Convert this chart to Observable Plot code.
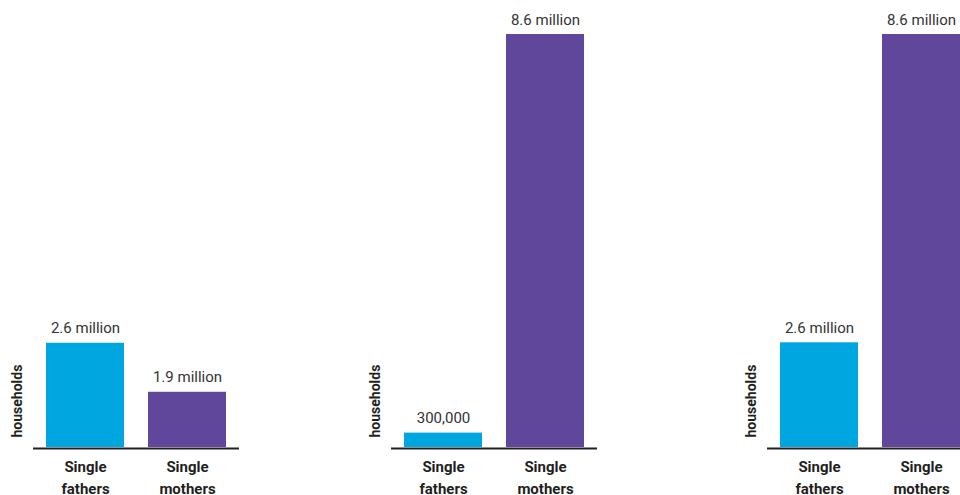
<!DOCTYPE html>
<html>
<head>
<meta charset="utf-8">
<script src="https://cdn.jsdelivr.net/npm/d3@7"></script>
<script src="https://cdn.jsdelivr.net/npm/@observablehq/plot@0.6"></script>
<style>
  html, body { margin: 0; padding: 0; background: #fff; }
  #chart { position: relative; width: 960px; height: 495px; overflow: hidden; }
  #chart > div { position: absolute; top: 0; width: 240px; height: 495px; }
  #chart svg { display: block; max-width: none !important; width: 240px; height: 495px; }
</style>
</head>
<body>
<div id="chart"></div>
<script>
// Categories (shared by all three panels)
const categories = ["Single fathers", "Single mothers"];
const categoryLines = ["Single\nfathers", "Single\nmothers"];

// Bar heights as drawn (millions of households)
const panel1Heights = [2.17, 1.15];
const panel2Heights = [0.3, 8.6];
const panel3Heights = [2.18, 8.6];

// Value labels printed above the bars
const panel1Labels = ["2.6 million", "1.9 million"];
const panel2Labels = ["300,000", "8.6 million"];
const panel3Labels = ["2.6 million", "8.6 million"];

const yLabel = "households";
const colors = ["#00a6e0", "#60479c"];

const panels = [
  {heights: panel1Heights, labels: panel1Labels, left: 0},
  {heights: panel2Heights, labels: panel2Labels, left: 358},
  {heights: panel3Heights, labels: panel3Labels, left: 734}
];

const font = "Roboto, 'Noto Sans', sans-serif";
const container = document.getElementById("chart");

for (const p of panels) {
  const rows = categories.map((c, i) => ({
    category: c,
    lines: categoryLines[i],
    value: p.heights[i],
    label: p.labels[i]
  }));
  const chart = Plot.plot({
    width: 240,
    height: 495,
    marginLeft: 33,
    marginRight: 1,
    marginTop: 34,
    marginBottom: 48,
    style: {fontFamily: font, background: "transparent", maxWidth: "none"},
    x: {domain: categories, paddingInner: 0.235, paddingOuter: 0.127, axis: null},
    y: {domain: [0, 8.6], axis: null},
    color: {domain: categories, range: colors},
    marks: [
      Plot.barY(rows, {x: "category", y: "value", fill: "category"}),
      Plot.ruleY([0], {stroke: "#231f20", strokeWidth: 2, dy: 1}),
      Plot.text(rows, {
        x: "category", y: "value", text: "label",
        lineAnchor: "bottom", dy: -10,
        fontSize: 15, fill: "#333333"
      }),
      Plot.text(rows, {
        x: "category", frameAnchor: "bottom", text: "lines",
        lineAnchor: "top", dy: 9, lineHeight: 1.47,
        fontSize: 15, fontWeight: "bold", fill: "#231f20"
      }),
      Plot.text([yLabel], {
        frameAnchor: "bottom-left", text: d => d,
        rotate: -90, textAnchor: "start", lineAnchor: "middle",
        dx: -15.5, dy: -10,
        fontSize: 14, fontWeight: "bold", fill: "#231f20"
      })
    ]
  });
  const wrap = document.createElement("div");
  wrap.style.left = p.left + "px";
  wrap.appendChild(chart);
  container.appendChild(wrap);
}
</script>
</body>
</html>
